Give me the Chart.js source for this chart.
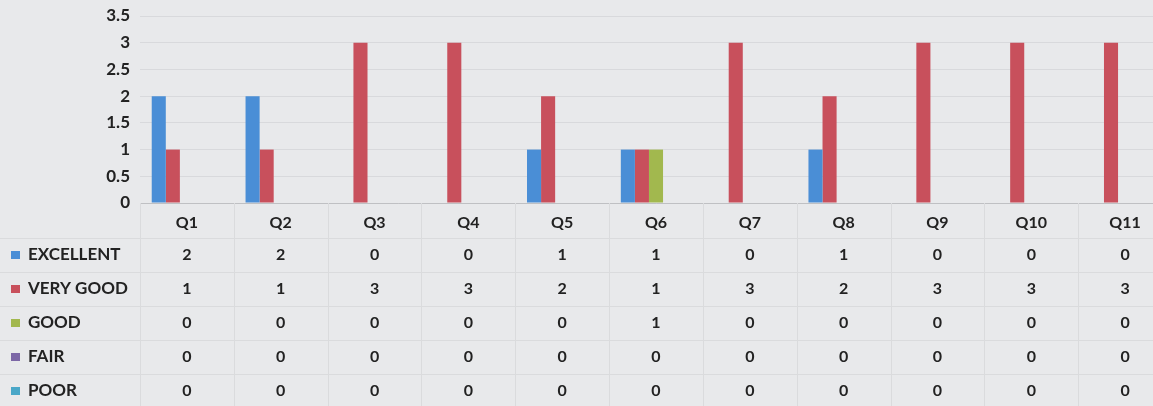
<!DOCTYPE html>
<html>
<head>
<meta charset="utf-8">
<script src="https://cdn.jsdelivr.net/npm/chart.js@4/dist/chart.umd.min.js"></script>
<style>
    html, body { margin: 0; padding: 0; overflow: hidden; background: #e8e9eb; }
    #wrap { width: 1172px; height: 406px; position: relative; }
</style>
</head>
<body>
<div id="wrap"><canvas id="survey-chart"></canvas></div>
<script>
var questions = ['Q1', 'Q2', 'Q3', 'Q4', 'Q5', 'Q6', 'Q7', 'Q8', 'Q9', 'Q10', 'Q11'];
var excellent = [2, 2, 0, 0, 1, 1, 0, 1, 0, 0, 0];
var veryGood  = [1, 1, 3, 3, 2, 1, 3, 2, 3, 3, 3];
var good      = [0, 0, 0, 0, 0, 1, 0, 0, 0, 0, 0];
var fair      = [0, 0, 0, 0, 0, 0, 0, 0, 0, 0, 0];
var poor      = [0, 0, 0, 0, 0, 0, 0, 0, 0, 0, 0];
var seriesNames = ['EXCELLENT', 'VERY GOOD', 'GOOD', 'FAIR', 'POOR'];
var yMin = 0, yMax = 3.5, yStep = 0.5;

var colors = ['#4a8ed6', '#c8505c', '#a2b84e', '#7c67a6', '#4aa7c8'];
var textColor = '#222222';
var fontFamily = 'Lato, "Liberation Sans", sans-serif';

// Excel-style data table under the plot, columns follow the x scale
var dataTablePlugin = {
    id: 'dataTable',
    afterDraw: function(chart) {
        var ctx = chart.ctx;
        var xs = chart.scales.x;
        var area = chart.chartArea;
        var half = (area.right - area.left) / questions.length / 2;
        var headerBottom = area.bottom + 35;
        var rowH = 34;
        var bottom = chart.height;

        ctx.save();
        ctx.strokeStyle = '#dadbdd';
        ctx.lineWidth = 1;
        ctx.beginPath();
        for (var r = 0; r < seriesNames.length; r++) {
            var ly = Math.round(headerBottom + r * rowH) + 0.5;
            ctx.moveTo(0, ly);
            ctx.lineTo(chart.width, ly);
        }
        var lx = Math.round(area.left) + 0.5;
        ctx.moveTo(lx, area.bottom);
        ctx.lineTo(lx, bottom);
        for (var i = 0; i < questions.length; i++) {
            var bx = Math.round(xs.getPixelForValue(i) + half) + 0.5;
            ctx.moveTo(bx, area.bottom);
            ctx.lineTo(bx, bottom);
        }
        ctx.stroke();

        ctx.textBaseline = 'middle';
        chart.data.datasets.forEach(function(ds, r) {
            var cy = headerBottom + r * rowH + rowH / 2;
            ctx.fillStyle = ds.backgroundColor;
            ctx.fillRect(11, cy - 4, 9, 8);
            ctx.fillStyle = textColor;
            ctx.textAlign = 'left';
            ctx.font = 'bold 17px ' + fontFamily;
            ctx.fillText(ds.label, 28, cy);
            ctx.textAlign = 'center';
            ctx.font = 'bold 16px ' + fontFamily;
            ds.data.forEach(function(v, i) {
                ctx.fillText(String(v), xs.getPixelForValue(i), cy);
            });
        });
        ctx.restore();
    }
};

var series = [excellent, veryGood, good, fair, poor];

new Chart(document.getElementById('survey-chart'), {
    type: 'bar',
    data: {
        labels: questions,
        datasets: series.map(function(values, i) {
            return {
                label: seriesNames[i],
                data: values,
                backgroundColor: colors[i],
                borderWidth: 0
            };
        })
    },
    options: {
        responsive: true,
        maintainAspectRatio: false,
        animation: false,
        categoryPercentage: 0.75,
        barPercentage: 1.0,
        layout: { padding: { top: 16, left: 0, right: 0, bottom: 0 } },
        plugins: {
            legend: { display: false },
            tooltip: { enabled: false }
        },
        scales: {
            x: {
                grid: { display: false, drawTicks: false },
                border: { display: true, color: '#bfc0c3' },
                ticks: {
                    color: textColor,
                    font: { family: fontFamily, size: 16, weight: 'bold' },
                    padding: 10
                },
                afterFit: function(scale) { scale.height = 203; }
            },
            y: {
                min: yMin,
                max: yMax,
                grid: { color: '#d8d9dc', drawTicks: false },
                border: { display: false },
                ticks: {
                    stepSize: yStep,
                    color: textColor,
                    font: { family: fontFamily, size: 17, weight: 'bold' },
                    padding: 10,
                    callback: function(value) { return String(value); }
                },
                afterFit: function(scale) {
                    scale.width = 140;
                    scale.paddingTop = 0;
                    scale.paddingBottom = 0;
                }
            }
        }
    },
    plugins: [dataTablePlugin]
});
</script>
</body>
</html>
